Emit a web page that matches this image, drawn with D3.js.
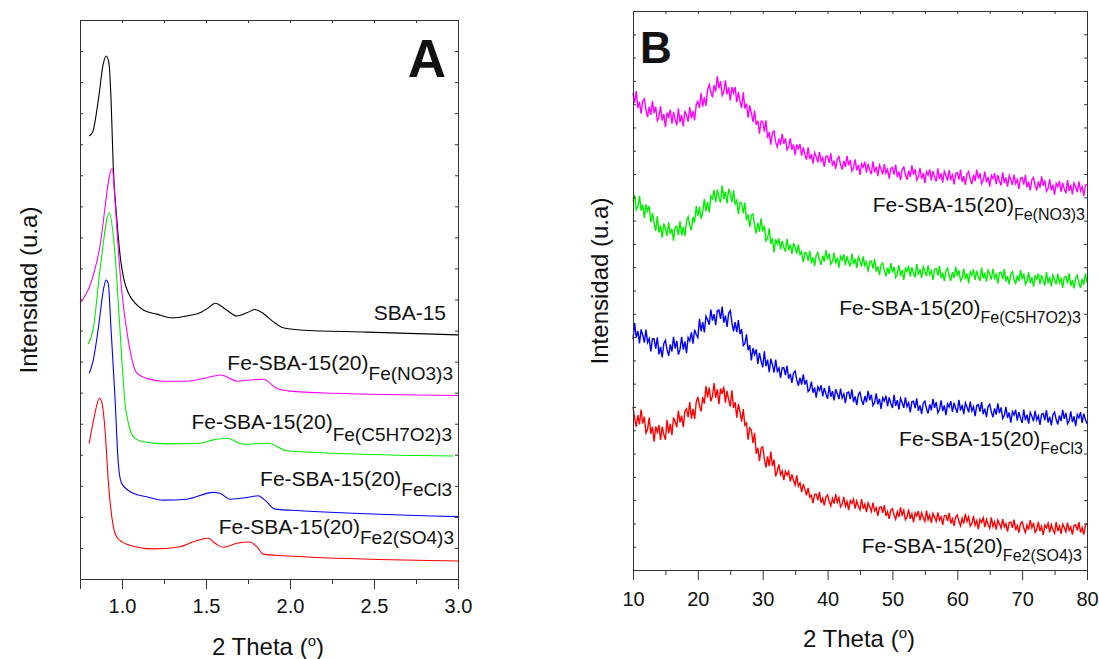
<!DOCTYPE html>
<html>
<head>
<meta charset="utf-8">
<script src="https://cdn.jsdelivr.net/npm/d3@7"></script>
<style>
  body { margin: 0; background: #fff; }
  text { font-family: "Liberation Sans", Arial, sans-serif; fill: #111; }
  .axis path, .axis line { stroke: #333; }
</style>
</head>
<body>
<div id="chart"></div>
<script>
// ---------- panel A: low angle XRD ----------
var sbaX   = [0.804,0.826,0.859,0.889,0.905,0.921,0.935,0.948,0.968,0.992,1.012,1.038,1.077,1.127,1.207,1.296,1.385,1.474,1.514,1.554,1.623,1.683,1.742,1.792,1.841,1.901,1.960,2.060,2.457,3.0];
var sbaY   = [14.26,14.40,15.42,16.60,16.84,16.66,15.42,13.27,11.66,10.27,9.63,9.21,8.89,8.66,8.53,8.41,8.47,8.60,8.73,8.88,8.66,8.47,8.57,8.68,8.55,8.28,8.09,8.02,7.95,7.86];
var no3X   = [0.75,0.814,0.863,0.942,0.958,0.978,0.998,1.037,1.087,1.147,1.246,1.385,1.504,1.589,1.686,1.762,1.841,1.921,2.0,2.256,3.0];
var no3Y   = [8.88,9.52,10.54,13.22,12.20,10.59,9.30,7.69,6.64,6.46,6.37,6.37,6.48,6.57,6.37,6.41,6.43,6.14,6.05,5.98,5.91];
var acacX  = [0.799,0.829,0.869,0.924,0.958,0.988,1.018,1.038,1.071,1.127,1.266,1.464,1.543,1.623,1.722,1.871,1.980,2.258,2.972];
var acacY  = [7.57,8.07,9.95,11.79,10.49,8.02,5.66,5.01,4.56,4.42,4.35,4.37,4.48,4.53,4.34,4.37,4.13,4.05,3.96];
var clX    = [0.805,0.829,0.859,0.889,0.905,0.918,0.935,0.958,0.978,0.998,1.067,1.147,1.246,1.385,1.543,1.583,1.643,1.742,1.811,1.851,1.911,2.060,3.0];
var clY    = [6.62,7.05,8.07,9.30,9.63,9.52,8.02,5.87,3.72,3.08,2.76,2.65,2.54,2.57,2.79,2.76,2.57,2.62,2.68,2.54,2.25,2.20,2.01];
var so4X   = [0.805,0.835,0.865,0.879,0.899,0.918,0.945,0.968,1.028,1.186,1.345,1.424,1.514,1.554,1.603,1.683,1.762,1.802,1.841,1.960,3.0];
var so4Y   = [4.37,5.23,5.82,5.71,4.80,3.19,1.79,1.36,1.12,0.97,1.04,1.20,1.31,1.15,1.02,1.15,1.19,1.04,0.80,0.75,0.58];

var xTicksA = [1.0, 1.5, 2.0, 2.5, 3.0];

// ---------- panel B: wide angle XRD, 2theta from 10 to 80, one reading every 0.25 ----------
var thetaStart = 10, thetaStep = 0.25;
var bNO3 = [
  20.48,20.06,20.56,19.83,20.10,19.59,20.13,20.22,19.76,19.44,19.89,19.54,20.14,19.61,19.90,19.29,19.44,19.91,19.29,19.58,
  19.01,19.63,19.45,19.76,19.16,19.66,19.33,19.09,19.82,19.22,19.53,19.05,19.71,19.51,19.25,19.87,19.39,19.71,19.30,19.98,
  20.12,19.84,20.48,19.89,20.30,19.93,20.61,20.84,20.52,20.29,20.82,20.54,21.20,20.68,20.99,20.38,20.54,21.02,20.42,20.72,
  20.16,20.73,20.48,20.74,20.09,20.52,20.14,19.84,20.51,19.81,20.03,19.42,19.95,19.62,19.23,19.72,19.11,19.29,18.73,19.27,
  19.26,18.82,19.30,18.55,18.80,18.26,18.78,18.85,18.37,18.16,18.52,18.25,18.72,18.30,18.53,18.04,18.16,18.53,18.04,18.27,
  17.82,18.27,18.08,18.29,17.79,18.14,17.84,17.62,18.15,17.64,17.85,17.45,17.92,17.74,17.50,17.95,17.55,17.71,17.31,17.75,
  17.78,17.48,17.89,17.35,17.58,17.21,17.65,17.75,17.41,17.19,17.57,17.30,17.78,17.37,17.61,17.13,17.26,17.63,17.16,17.39,
  16.96,17.44,17.29,17.53,17.06,17.44,17.18,16.99,17.55,17.08,17.32,16.91,17.39,17.21,16.98,17.43,17.03,17.20,16.80,17.25,
  17.28,16.98,17.41,16.87,17.11,16.74,17.20,17.30,16.97,16.76,17.14,16.88,17.37,16.97,17.21,16.74,16.88,17.26,16.79,17.04,
  16.61,17.10,16.95,17.20,16.73,17.12,16.86,16.68,17.24,16.78,17.03,16.63,17.12,16.94,16.72,17.17,16.78,16.96,16.56,17.02,
  17.06,16.76,17.19,16.66,16.91,16.54,17.00,17.11,16.78,16.57,16.96,16.70,17.19,16.80,17.04,16.58,16.72,17.10,16.64,16.88,
  16.46,16.94,16.80,17.04,16.57,16.95,16.70,16.51,17.07,16.61,16.85,16.45,16.94,16.76,16.53,16.98,16.59,16.76,16.36,16.82,
  16.85,16.55,16.97,16.43,16.67,16.30,16.75,16.85,16.52,16.30,16.68,16.42,16.90,16.49,16.73,16.26,16.39,16.77,16.30,16.54,
  16.11,16.60,16.45,16.70,16.23,16.62,16.36,16.18,16.74,16.28,16.53,16.13,16.62,16.44,16.22,16.67,16.28,16.46,16.06,16.52,
  16.56];
var bAcac = [
  15.83,16.11,15.47,15.61,16.06,15.43,15.70,15.12,15.70,15.41,15.63,14.93,15.33,14.90,14.56,15.19,14.49,14.79,14.27,14.88,
  14.64,14.35,14.93,14.42,14.65,14.14,14.72,14.76,14.38,14.98,14.36,14.73,14.33,14.97,15.16,14.81,14.59,15.16,14.92,15.62,
  15.19,15.59,15.08,15.34,15.92,15.41,15.81,15.35,16.06,15.94,16.31,15.78,16.33,16.01,15.78,16.51,15.92,16.24,15.74,16.37,
  16.15,15.79,16.30,15.72,15.87,15.28,15.79,15.76,15.31,15.78,15.02,15.26,14.72,15.23,15.29,14.80,14.45,14.90,14.52,15.10,
  14.54,14.79,14.13,14.24,14.67,14.00,14.25,13.64,14.20,14.00,14.23,13.76,14.13,13.86,13.67,14.22,13.74,13.97,13.57,14.04,
  13.85,13.58,13.98,13.54,13.67,13.22,13.63,13.61,13.27,13.70,13.17,13.42,13.06,13.52,13.63,13.31,13.10,13.49,13.24,13.73,
  13.34,13.58,13.12,13.25,13.63,13.16,13.41,12.98,13.46,13.31,13.56,13.09,13.47,13.21,13.03,13.59,13.12,13.36,12.97,13.45,
  13.27,13.03,13.47,13.06,13.22,12.81,13.24,13.26,12.95,13.36,12.81,13.04,12.66,13.10,13.19,12.85,12.61,12.98,12.71,13.18,
  12.77,13.02,12.56,12.70,13.09,12.63,12.88,12.46,12.95,12.81,13.06,12.60,12.99,12.74,12.56,13.13,12.67,12.92,12.53,13.02,
  12.85,12.62,13.08,12.68,12.85,12.45,12.91,12.94,12.64,13.06,12.53,12.77,12.40,12.85,12.96,12.63,12.41,12.79,12.54,13.02,
  12.62,12.87,12.41,12.55,12.94,12.48,12.73,12.31,12.80,12.66,12.91,12.45,12.84,12.59,12.41,12.98,12.52,12.77,12.38,12.87,
  12.70,12.47,12.93,12.53,12.70,12.30,12.76,12.79,12.49,12.92,12.38,12.62,12.26,12.71,12.81,12.48,12.27,12.65,12.39,12.88,
  12.48,12.73,12.26,12.40,12.79,12.32,12.57,12.15,12.63,12.49,12.73,12.27,12.66,12.40,12.22,12.79,12.32,12.57,12.18,12.66,
  12.49,12.27,12.72,12.33,12.51,12.11,12.57,12.61,12.31,12.74,12.20,12.45,12.09,12.54,12.65,12.33,12.11,12.50,12.25,12.73,
  12.34];
var bCl = [
  9.90,10.60,9.98,10.26,9.73,10.33,10.08,9.76,10.32,9.77,9.94,9.39,9.93,9.92,9.50,9.99,9.26,9.58,9.13,9.72,
  9.86,9.46,9.19,9.69,9.38,10.01,9.51,9.84,9.25,9.47,10.01,9.46,9.82,9.31,9.98,9.84,10.20,9.72,10.32,10.11,
  9.98,10.78,10.25,10.64,10.20,10.90,10.74,10.53,11.18,10.71,10.98,10.51,11.13,11.16,10.78,11.31,10.62,10.92,10.44,11.02,
  11.14,10.62,10.25,10.64,10.21,10.73,10.13,10.34,9.64,9.72,10.12,9.43,9.65,9.00,9.53,9.25,9.47,8.85,9.32,8.96,
  8.70,9.39,8.75,9.03,8.49,9.07,8.81,8.48,9.03,8.53,8.68,8.25,8.68,8.69,8.37,8.77,8.21,8.42,8.03,8.46,
  8.54,8.17,7.91,8.26,7.96,8.40,7.96,8.16,7.66,7.75,8.09,7.61,7.84,7.40,7.87,7.71,7.93,7.45,7.82,7.55,
  7.35,7.91,7.44,7.68,7.28,7.76,7.57,7.34,7.79,7.39,7.56,7.16,7.61,7.64,7.34,7.76,7.21,7.45,7.08,7.53,
  7.63,7.30,7.09,7.47,7.21,7.69,7.29,7.53,7.06,7.19,7.58,7.11,7.35,6.92,7.40,7.25,7.49,7.03,7.41,7.15,
  6.96,7.52,7.05,7.29,6.89,7.37,7.19,6.96,7.41,7.01,7.18,6.77,7.22,7.25,6.95,7.37,6.83,7.07,6.70,7.15,
  7.25,6.93,6.72,7.11,6.86,7.35,6.96,7.21,6.75,6.89,7.28,6.82,7.07,6.65,7.14,7.00,7.25,6.79,7.18,6.93,
  6.75,7.31,6.85,7.09,6.69,7.18,7.00,6.77,7.23,6.83,7.01,6.61,7.06,7.10,6.80,7.22,6.69,6.93,6.56,7.02,
  7.12,6.79,6.56,6.94,6.67,7.15,6.74,6.98,6.50,6.63,7.00,6.53,6.76,6.33,6.80,6.65,6.88,6.41,6.78,6.52,
  6.32,6.89,6.43,6.67,6.28,6.77,6.60,6.38,6.83,6.44,6.62,6.23,6.69,6.72,6.43,6.86,6.33,6.58,6.21,6.67,
  6.78,6.46,6.25,6.64,6.39,6.88,6.49,6.74,6.28,6.42,6.81,6.35,6.60,6.18,6.67,6.53,6.78,6.32,6.71,6.46,
  6.28];
var bSO4 = [
  7.01,6.51,6.15,6.65,6.25,6.89,6.29,6.58,5.88,6.04,6.54,5.85,6.15,5.51,6.16,5.92,6.22,5.59,6.16,5.82,
  5.59,6.45,5.87,6.28,5.79,6.55,6.37,6.13,6.84,6.34,6.63,6.13,6.82,6.92,6.56,7.21,6.50,6.92,6.49,7.21,
  7.43,7.04,6.81,7.42,7.14,7.90,7.41,7.83,7.24,7.46,8.03,7.39,7.76,7.12,7.79,7.55,7.87,7.18,7.69,7.31,
  7.02,7.71,6.96,7.20,6.54,7.13,6.78,6.37,6.91,6.21,6.31,5.60,6.10,6.00,5.45,5.89,4.99,5.25,4.67,5.23,
  5.29,4.77,4.40,4.88,4.46,5.08,4.46,4.74,4.02,4.24,4.53,4.09,4.26,3.86,4.24,4.07,4.24,3.81,4.10,3.84,
  3.65,4.06,3.60,3.74,3.34,3.69,3.46,3.21,3.53,3.13,3.21,2.87,3.24,3.26,3.00,3.35,2.89,3.08,2.77,3.14,
  3.22,2.94,2.75,3.07,2.85,3.26,2.91,3.11,2.71,2.82,3.14,2.74,2.94,2.57,2.98,2.85,3.04,2.64,2.96,2.74,
  2.58,3.04,2.63,2.83,2.48,2.88,2.71,2.51,2.89,2.54,2.67,2.32,2.69,2.71,2.45,2.79,2.32,2.51,2.20,2.57,
  2.64,2.36,2.18,2.50,2.28,2.69,2.36,2.56,2.16,2.28,2.60,2.20,2.41,2.04,2.45,2.32,2.53,2.13,2.45,2.24,
  2.08,2.55,2.16,2.36,2.02,2.43,2.28,2.09,2.47,2.14,2.28,1.94,2.33,2.35,2.10,2.45,2.00,2.20,1.89,2.28,
  2.36,2.08,1.90,2.22,2.00,2.41,2.08,2.28,1.88,1.99,2.32,1.92,2.12,1.75,2.17,2.04,2.24,1.84,2.17,1.95,
  1.79,2.26,1.87,2.07,1.73,2.14,1.99,1.80,2.18,1.85,1.99,1.65,2.04,2.06,1.81,2.16,1.71,1.91,1.60,1.99,
  2.07,1.80,1.61,1.94,1.73,2.14,1.81,2.02,1.62,1.74,2.06,1.67,1.88,1.51,1.93,1.81,2.01,1.62,1.95,1.73,
  1.58,2.06,1.67,1.88,1.55,1.97,1.82,1.64,2.03,1.70,1.85,1.52,1.91,1.94,1.70,2.06,1.61,1.82,1.52,1.91,
  2.00];

var xTicksB = [10, 20, 30, 40, 50, 60, 70, 80];

var svg = d3.select("#chart").append("svg")
    .attr("width", 1099)
    .attr("height", 659);

svg.append("rect").attr("width", 1099).attr("height", 659).attr("fill", "#fff");

function zip(xs, ys) {
  return xs.map(function(v, i) { return [v, ys[i]]; });
}

// 4-sided frame: big outward ticks at the bottom, small inward ticks elsewhere
function frame(g, x, y, w, h, majors, minors, topTicks, sideTicks, pad) {
  g.append("g").attr("class", "axis")
      .attr("transform", "translate(0," + h + ")")
      .call(d3.axisBottom(x).tickValues(minors).tickSize(5).tickFormat(""));
  g.append("g").attr("class", "axis")
      .attr("transform", "translate(0," + h + ")")
      .call(d3.axisBottom(x).tickValues(majors).tickSize(10).tickPadding(pad)
        .tickFormat(d3.format(majors[0] < 5 ? ".1f" : "d")))
      .selectAll("text").style("font-size", "20px")
      .style("font-family", "Liberation Sans, Arial, sans-serif").attr("fill", "#111");
  g.append("g").attr("class", "axis")
      .call(d3.axisTop(x).tickValues(topTicks).tickSize(-3).tickFormat(""));
  g.append("g").attr("class", "axis")
      .call(d3.axisLeft(y).tickValues(sideTicks).tickSize(-3).tickFormat(""));
  g.append("g").attr("class", "axis")
      .attr("transform", "translate(" + w + ",0)")
      .call(d3.axisRight(y).tickValues(sideTicks).tickSize(-3).tickFormat(""));
  g.selectAll(".axis .domain").attr("stroke", "#333");
}

function label(g, xEnd, yBase, main, sub, subSize, subDrop) {
  var t = g.append("text")
      .attr("x", xEnd).attr("y", yBase)
      .attr("text-anchor", "end")
      .style("font-size", "21px");
  t.append("tspan").text(main);
  if (sub) {
    t.append("tspan").attr("dy", subDrop).style("font-size", subSize + "px").text(sub);
  }
}

function xTitle(cx, yBase) {
  var t = svg.append("text")
      .attr("x", cx).attr("y", yBase)
      .attr("text-anchor", "middle")
      .style("font-size", "24px");
  t.append("tspan").text("2 Theta (");
  t.append("tspan").attr("dy", -9).style("font-size", "15px").text("o");
  t.append("tspan").attr("dy", 9).text(")");
}

function yTitle(xBase, cy) {
  svg.append("text")
      .attr("transform", "translate(" + xBase + "," + cy + ") rotate(-90)")
      .attr("text-anchor", "middle")
      .style("font-size", "24px")
      .text("Intensidad (u.a)");
}

// ---------- panel A ----------
var aLeft = 80, aTop = 20, aW = 378, aH = 559;
var gA = svg.append("g").attr("transform", "translate(" + aLeft + "," + aTop + ")");
var xA = d3.scaleLinear().domain([0.75, 3.0]).range([0, aW]);
var yA = d3.scaleLinear().domain([0, 18]).range([aH, 0]);

var lineA = d3.line()
    .x(function(d) { return xA(d[0]); })
    .y(function(d) { return yA(d[1]); })
    .curve(d3.curveMonotoneX);

var seriesA = [
  { data: zip(sbaX, sbaY),  color: "#000000" },
  { data: zip(no3X, no3Y),  color: "#ff00ff" },
  { data: zip(acacX, acacY), color: "#00ee00" },
  { data: zip(clX, clY),    color: "#0000ff" },
  { data: zip(so4X, so4Y),  color: "#ff0000" }
];

gA.selectAll(".lineA")
    .data(seriesA)
  .enter().append("path")
    .attr("class", "lineA")
    .attr("fill", "none")
    .attr("stroke", function(d) { return d.color; })
    .attr("stroke-width", 1.1)
    .attr("d", function(d) { return lineA(d.data); });

frame(gA, xA, yA, aW, aH, xTicksA, [0.75, 1.25, 1.75, 2.25, 2.75],
      d3.range(0.75, 3.01, 0.25), d3.range(0, 18.01, 1), 10);

label(gA, 366, 300, "SBA-15", null);
label(gA, 373, 350, "Fe-SBA-15(20)", "Fe(NO3)3", 19, 10);
label(gA, 372, 409, "Fe-SBA-15(20)", "Fe(C5H7O2)3", 19, 12);
label(gA, 372, 466, "Fe-SBA-15(20)", "FeCl3", 19, 10);
label(gA, 374, 514, "Fe-SBA-15(20)", "Fe2(SO4)3", 19, 10);

gA.append("text")
    .attr("x", 366).attr("y", 57)
    .attr("text-anchor", "end")
    .style("font-size", "53px").style("font-weight", "bold")
    .attr("fill", "#000")
    .text("A");

// ---------- panel B ----------
var bLeft = 633, bTop = 11, bW = 454, bH = 559;
var gB = svg.append("g").attr("transform", "translate(" + bLeft + "," + bTop + ")");
var xB = d3.scaleLinear().domain([10, 80]).range([0, bW]);
var yB = d3.scaleLinear().domain([0, 24]).range([bH, 0]);

var lineB = d3.line()
    .x(function(d, i) { return xB(thetaStart + i * thetaStep); })
    .y(function(d) { return yB(d); });

var seriesB = [
  { data: bNO3,  color: "#ff00ff" },
  { data: bAcac, color: "#00ee00" },
  { data: bCl,   color: "#0000ff" },
  { data: bSO4,  color: "#ff0000" }
];

gB.selectAll(".lineB")
    .data(seriesB)
  .enter().append("path")
    .attr("class", "lineB")
    .attr("fill", "none")
    .attr("stroke", function(d) { return d.color; })
    .attr("stroke-width", 1.4)
    .attr("d", function(d) { return lineB(d.data); });

frame(gB, xB, yB, bW, bH, xTicksB, [15, 25, 35, 45, 55, 65, 75],
      d3.range(10, 80.1, 5), d3.range(0, 24.01, 1), 12);

label(gB, 452, 201, "Fe-SBA-15(20)", "Fe(NO3)3", 16, 8);
label(gB, 448, 304, "Fe-SBA-15(20)", "Fe(C5H7O2)3", 16, 8);
label(gB, 450, 435, "Fe-SBA-15(20)", "FeCl3", 16, 8);
label(gB, 449, 542, "Fe-SBA-15(20)", "Fe2(SO4)3", 16, 8);

gB.append("text")
    .attr("x", 7).attr("y", 52)
    .style("font-size", "44px").style("font-weight", "bold")
    .attr("fill", "#000")
    .text("B");

// axis titles
xTitle(268, 655);
xTitle(859, 647);
yTitle(37, 290);
yTitle(608, 281);
</script>
</body>
</html>
